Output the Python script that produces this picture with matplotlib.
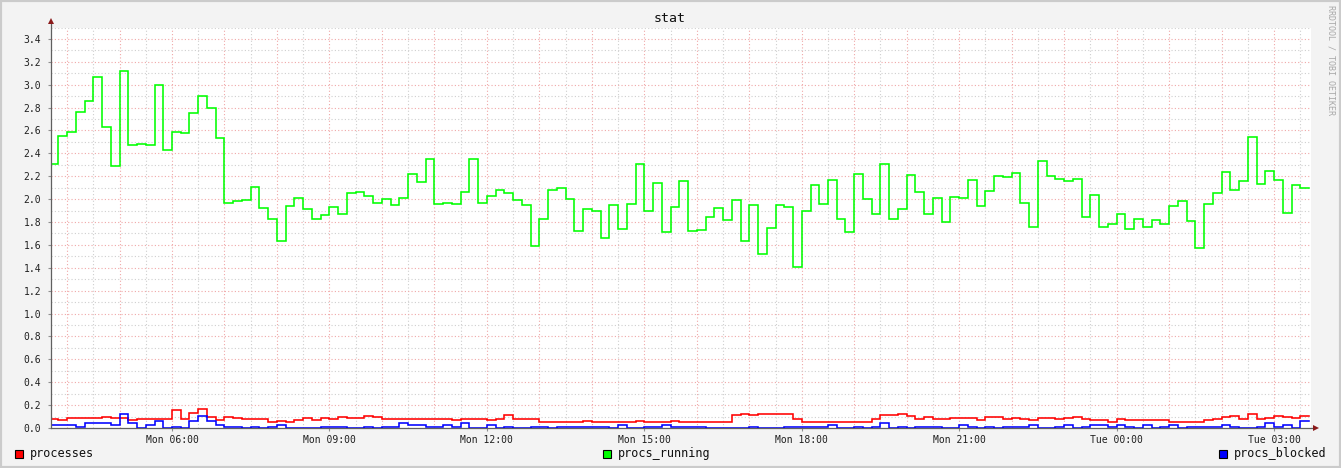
import numpy as np
import matplotlib
matplotlib.use("Agg")
from matplotlib import pyplot as plt
from matplotlib.patches import Rectangle
from matplotlib.lines import Line2D

# 10 minute bins, first bin starts Mon 03:40 (hours since Mon 00:00)
start_hour = 3 + 40 / 60
bin_hours = 1 / 6

procs_running = [
    2.31, 2.55, 2.59, 2.76, 2.86, 3.07, 2.63, 2.29, 3.12, 2.47, 2.48, 2.47,
    3.00, 2.43, 2.59, 2.58, 2.75, 2.90, 2.80, 2.53, 1.97, 1.98, 1.99, 2.11,
    1.92, 1.83, 1.63, 1.94, 2.01, 1.91, 1.83, 1.86, 1.93, 1.87, 2.05, 2.06,
    2.03, 1.97, 2.00, 1.95, 2.01, 2.22, 2.15, 2.35, 1.96, 1.97, 1.96, 2.06,
    2.35, 1.97, 2.03, 2.08, 2.05, 1.99, 1.95, 1.59, 1.83, 2.08, 2.10, 2.00,
    1.72, 1.91, 1.90, 1.66, 1.95, 1.74, 1.96, 2.31, 1.90, 2.14, 1.71, 1.93,
    2.16, 1.72, 1.73, 1.84, 1.92, 1.82, 1.99, 1.63, 1.95, 1.52, 1.75, 1.95,
    1.93, 1.41, 1.90, 2.12, 1.96, 2.17, 1.83, 1.71, 2.22, 2.00, 1.87, 2.31,
    1.83, 1.91, 2.21, 2.06, 1.87, 2.01, 1.80, 2.02, 2.01, 2.17, 1.94, 2.07,
    2.20, 2.19, 2.23, 1.97, 1.76, 2.33, 2.20, 2.18, 2.16, 2.18, 1.84, 2.04,
    1.76, 1.78, 1.87, 1.74, 1.83, 1.76, 1.82, 1.78, 1.94, 1.98, 1.81, 1.57,
    1.96, 2.05, 2.24, 2.08, 2.16, 2.54, 2.13, 2.25, 2.17, 1.88, 2.12, 2.10,
]

processes = [
    0.082, 0.073, 0.087, 0.087, 0.087, 0.087, 0.096, 0.087, 0.087, 0.073, 0.082, 0.082,
    0.082, 0.082, 0.157, 0.082, 0.131, 0.166, 0.096, 0.073, 0.096, 0.087, 0.082, 0.082,
    0.076, 0.055, 0.064, 0.055, 0.073, 0.087, 0.073, 0.087, 0.082, 0.096, 0.087, 0.087,
    0.108, 0.093, 0.076, 0.076, 0.076, 0.076, 0.080, 0.076, 0.076, 0.076, 0.067, 0.076,
    0.076, 0.076, 0.067, 0.076, 0.117, 0.076, 0.082, 0.076, 0.050, 0.055, 0.055, 0.055,
    0.055, 0.064, 0.055, 0.055, 0.055, 0.055, 0.055, 0.064, 0.055, 0.055, 0.055, 0.064,
    0.055, 0.055, 0.055, 0.055, 0.055, 0.055, 0.117, 0.125, 0.117, 0.125, 0.125, 0.125,
    0.125, 0.082, 0.055, 0.055, 0.055, 0.055, 0.055, 0.055, 0.055, 0.055, 0.082, 0.117,
    0.117, 0.125, 0.108, 0.082, 0.099, 0.082, 0.082, 0.090, 0.090, 0.090, 0.073, 0.099,
    0.099, 0.082, 0.090, 0.082, 0.073, 0.090, 0.090, 0.082, 0.090, 0.099, 0.082, 0.067,
    0.067, 0.055, 0.082, 0.073, 0.073, 0.067, 0.073, 0.067, 0.055, 0.055, 0.055, 0.055,
    0.073, 0.082, 0.099, 0.108, 0.082, 0.125, 0.082, 0.090, 0.108, 0.099, 0.090, 0.108,
]

procs_blocked = [
    0.029, 0.029, 0.029, 0.009, 0.047, 0.047, 0.047, 0.029, 0.125, 0.047, 0.0, 0.029,
    0.064, 0.0, 0.009, 0.0, 0.064, 0.108, 0.064, 0.029, 0.009, 0.009, 0.0, 0.009,
    0.0, 0.009, 0.029, 0.0, 0.0, 0.0, 0.0, 0.009, 0.009, 0.009, 0.0, 0.0,
    0.009, 0.0, 0.009, 0.009, 0.047, 0.029, 0.029, 0.009, 0.009, 0.029, 0.009, 0.047,
    0.0, 0.0, 0.029, 0.0, 0.009, 0.0, 0.0, 0.009, 0.009, 0.0, 0.009, 0.009,
    0.009, 0.009, 0.009, 0.009, 0.0, 0.029, 0.0, 0.0, 0.009, 0.009, 0.029, 0.009,
    0.009, 0.009, 0.009, 0.0, 0.0, 0.0, 0.0, 0.0, 0.009, 0.0, 0.0, 0.0,
    0.009, 0.009, 0.009, 0.009, 0.009, 0.029, 0.0, 0.0, 0.009, 0.0, 0.009, 0.047,
    0.0, 0.009, 0.0, 0.009, 0.009, 0.009, 0.0, 0.0, 0.029, 0.009, 0.0, 0.009,
    0.0, 0.009, 0.009, 0.009, 0.029, 0.0, 0.0, 0.009, 0.029, 0.0, 0.009, 0.029,
    0.029, 0.009, 0.029, 0.009, 0.0, 0.029, 0.0, 0.009, 0.029, 0.0, 0.009, 0.009,
    0.009, 0.009, 0.029, 0.009, 0.0, 0.0, 0.009, 0.047, 0.009, 0.029, 0.0, 0.064,
]

tick_hours = [6, 9, 12, 15, 18, 21, 24, 27]
tick_labels = ["Mon 06:00", "Mon 09:00", "Mon 12:00", "Mon 15:00",
               "Mon 18:00", "Mon 21:00", "Tue 00:00", "Tue 03:00"]
series = [("processes", processes, "#FF0000"),
          ("procs_running", procs_running, "#00FF00"),
          ("procs_blocked", procs_blocked, "#0000FF")]

W, H = 1341, 468
MONO = "DejaVu Sans Mono"
plt.rcParams["font.family"] = MONO

fig = plt.figure(figsize=(W / 100, H / 100), dpi=100, facecolor="#F3F3F3")

# plot area in pixels
px_left, px_right, px_top, px_bottom = 51, 1311, 27.5, 428
ax = fig.add_axes([px_left / W, 1 - px_bottom / H,
                   (px_right - px_left) / W, (px_bottom - px_top) / H])
ax.set_facecolor("white")

x_min = 6 - (172 - px_left) / 52.48
x_max = 6 + (px_right - 172) / 52.48
ax.set_xlim(x_min, x_max)
ax.set_ylim(0, 3.5)

# grid: gray minor, red major
for h in np.arange(3.5, 28, 0.5):
    if x_min < h < x_max:
        major = abs(h - round(h)) < 1e-6
        ax.axvline(h, color="#F0A8A8" if major else "#CFCFCF", lw=0.8,
                   ls=(0, (1, 2)), zorder=1)
for v in np.arange(0.1, 3.51, 0.1):
    major = abs(v / 0.2 - round(v / 0.2)) < 1e-6
    ax.axhline(v, color="#F0A8A8" if major else "#CFCFCF", lw=0.8,
               ls=(0, (1, 2)), zorder=1)

n = len(procs_running)
edges = start_hour + np.arange(n + 1) * bin_hours
order = [1, 0, 2]
for i in order:
    name, vals, col = series[i]
    ax.step(edges, list(vals) + [vals[-1]], where="post", color=col, lw=1.15,
            zorder=3 + i, solid_joinstyle="miter")

for s in ax.spines.values():
    s.set_visible(False)

ax.set_xticks(tick_hours)
ax.set_xticklabels(tick_labels)
ax.set_yticks(np.arange(0, 3.41, 0.2))
ax.set_yticklabels(["%.1f" % v for v in np.arange(0, 3.41, 0.2)])
ax.tick_params(axis="both", length=2, width=0.8, color="#909090",
               labelsize=7, labelcolor="#202020", pad=3)
ax.tick_params(axis="y", pad=5)

# axes with arrows (pixel coordinates)
def fx(x):
    return x / W

def fy(y):
    return 1 - y / H

fig.add_artist(Line2D([fx(px_left), fx(1314)], [fy(px_bottom), fy(px_bottom)],
                      color="#606060", lw=0.9))
fig.add_artist(Line2D([fx(px_left), fx(px_left)], [fy(px_bottom), fy(22)],
                      color="#606060", lw=0.9))
fig.add_artist(Line2D([fx(1316)], [fy(px_bottom)], marker=">", ms=4,
                      color="#8B1A1A", mew=0))
fig.add_artist(Line2D([fx(px_left)], [fy(21)], marker="^", ms=4,
                      color="#8B1A1A", mew=0))

fig.text(fx(670), fy(19), "stat", ha="center", va="center", fontsize=9.5,
         color="#101010")
fig.text(fx(1331), fy(60), "RRDTOOL / TOBI OETIKER", rotation=270,
         ha="center", va="center", fontsize=6, color="#A8A8A8")

legend_pos = [15, 603, 1219]
for (name, vals, col), lx in zip(series, legend_pos):
    fig.add_artist(Rectangle((fx(lx), fy(458)), 8 / W, 8 / H, facecolor=col,
                             edgecolor="black", lw=0.8))
    fig.text(fx(lx + 15), fy(454), name, ha="left", va="center",
             fontsize=8.5, color="#101010")

# frame
fig.add_artist(Rectangle((0, 0), 1, 1, fill=False, edgecolor="#CBCBCB",
                         lw=3, transform=fig.transFigure))

fig.savefig("out.png", dpi=100, facecolor=fig.get_facecolor())
